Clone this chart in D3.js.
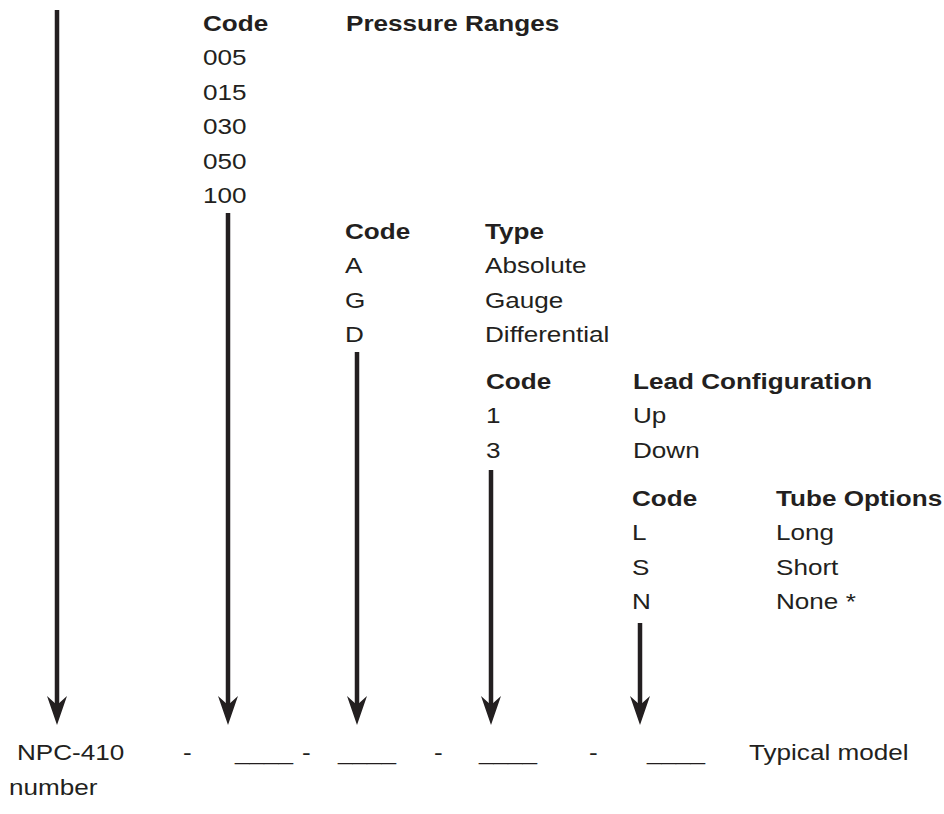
<!DOCTYPE html>
<html>
<head>
<meta charset="utf-8">
<script src="https://cdn.jsdelivr.net/npm/d3@7"></script>
<style>
  html, body { margin: 0; padding: 0; background: #fff; }
  svg { display: block; }
</style>
</head>
<body>
<script>
// ---- data ----
const pressureHeader = ["Code", "Pressure Ranges"];
const pressureCodes = ["005", "015", "030", "050", "100"];

const typeHeader = ["Code", "Type"];
const typeCodes = ["A", "G", "D"];
const typeNames = ["Absolute", "Gauge", "Differential"];

const leadHeader = ["Code", "Lead Configuration"];
const leadCodes = ["1", "3"];
const leadNames = ["Up", "Down"];

const tubeHeader = ["Code", "Tube Options"];
const tubeCodes = ["L", "S", "N"];
const tubeNames = ["Long", "Short", "None *"];

const modelParts = ["NPC-410", "-", "____", "-", "____", "-", "____", "-", "____", "Typical model"];
const modelSub = "number";

// ---- layout ----
const W = 944, H = 814;
const ink = "#231f20";
const fontSize = 22.5;
const stretch = 1.16;
const rowStep = 34.4;

const svg = d3.select("body").append("svg").attr("width", W).attr("height", H);

// row scale: index of line within a table -> baseline offset
const row = d3.scaleLinear().domain([0, 1]).range([0, rowStep]);

const tables = [
  { header: pressureHeader, codes: pressureCodes, names: [], codeX: 203, nameX: 346, y0: 31 },
  { header: typeHeader, codes: typeCodes, names: typeNames, codeX: 345, nameX: 485, y0: 239 },
  { header: leadHeader, codes: leadCodes, names: leadNames, codeX: 486, nameX: 633, y0: 389 },
  { header: tubeHeader, codes: tubeCodes, names: tubeNames, codeX: 632, nameX: 776, y0: 506 }
];

function label(g, txt, x, y, bold) {
  g.append("text")
    .attr("transform", `translate(${x},${y}) scale(${stretch},1)`)
    .attr("font-family", "'Liberation Sans', Arial, Helvetica, sans-serif")
    .attr("font-size", fontSize)
    .attr("font-weight", bold ? "bold" : "normal")
    .attr("fill", ink)
    .text(txt);
}

const gT = svg.append("g");
tables.forEach(t => {
  label(gT, t.header[0], t.codeX, t.y0, true);
  label(gT, t.header[1], t.nameX, t.y0, true);
  t.codes.forEach((c, i) => label(gT, c, t.codeX, t.y0 + row(i + 1), false));
  t.names.forEach((n, i) => label(gT, n, t.nameX, t.y0 + row(i + 1), false));
});

// ---- arrows ----
const arrows = [
  { x: 57, top: 10 },
  { x: 228, top: 213 },
  { x: 357, top: 352 },
  { x: 491, top: 470 },
  { x: 640, top: 623 }
];
const tipY = 725;
const gA = svg.append("g");
arrows.forEach(a => {
  gA.append("line")
    .attr("x1", a.x).attr("x2", a.x)
    .attr("y1", a.top).attr("y2", tipY - 18)
    .attr("stroke", ink).attr("stroke-width", 4.5);
  const p = d3.path();
  p.moveTo(a.x, tipY);
  p.lineTo(a.x - 10, tipY - 29);
  p.lineTo(a.x, tipY - 20);
  p.lineTo(a.x + 10, tipY - 29);
  p.closePath();
  gA.append("path").attr("d", p.toString()).attr("fill", ink);
});

// ---- model number line ----
const modelX = [17, 183, 235, 302, 338, 434, 479, 589, 647, 749];
const gM = svg.append("g");
modelParts.forEach((m, i) => label(gM, m, modelX[i], 760, false));
label(gM, modelSub, 9, 795, false);
</script>
</body>
</html>
